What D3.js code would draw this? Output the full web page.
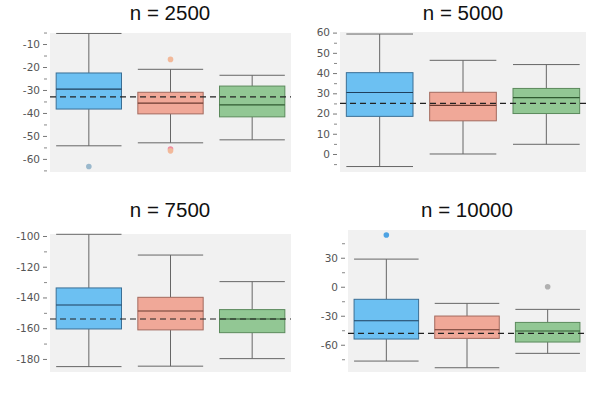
<!DOCTYPE html>
<html><head><meta charset="utf-8">
<script src="https://cdn.jsdelivr.net/npm/d3@7"></script>
<style>body{margin:0;background:#fff}svg{display:block}</style>
</head><body>
<svg id="c" width="600" height="400"></svg>
<script>
const titles = ["n = 2500", "n = 5000", "n = 7500", "n = 10000"];
const groups = ["A", "B", "C"];
// per panel, per group: [whiskerLow, q1, median, q3, whiskerHigh]
const stats2500  = [[-54.3, -38.3, -29.6, -22.6, -5.4], [-53, -40.4, -35.7, -31, -21], [-51.7, -41.7, -36.5, -28.3, -23.6]];
const stats5000  = [[-6.2, 18.6, 30.4, 40.2, 59.3], [0, 16.4, 24, 30.5, 46.3], [4.8, 20, 27.9, 32.4, 44.2]];
const stats7500  = [[-185, -160.5, -144.9, -133.8, -98.9], [-184.7, -161.1, -148.8, -139.9, -112.4], [-179.8, -162.9, -154, -147.9, -129.7]];
const stats10000 = [[-76.9, -54.1, -35.2, -13, 28.6], [-83.8, -53.4, -44.5, -30.3, -17.2], [-68.9, -57.2, -45.8, -36.9, -23.4]];
const outliers2500  = [[-63.3], [-16.7, -55.7, -56.5], []];
const outliers5000  = [[], [], []];
const outliers7500  = [[], [], []];
const outliers10000 = [[53.5], [], [0]];
const refLines = [-33, 25, -154, -48.3];
const majorTicks = [[-60, -50, -40, -30, -20, -10], [0, 10, 20, 30, 40, 50, 60], [-180, -160, -140, -120, -100], [-60, -30, 0, 30]];
const minorTicks = [[-65, -55, -45, -35, -25, -15, -5], [-5, 5, 15, 25, 35, 45, 55], [-190, -170, -150, -130, -110], [-75, -45, -15, 15, 45]];
const yDomains = [[-65.7, -5.2], [-8.9, 60.3], [-188.5, -98.7], [-88.2, 58.7]];

const allStats = [stats2500, stats5000, stats7500, stats10000];
const allOut = [outliers2500, outliers5000, outliers7500, outliers10000];

const fills = ["#6cc0f2", "#f0a898", "#92c794"];
const strokes = ["#3b6f95", "#a36a5e", "#5b8a5c"];
const medians = ["#1f3f5c", "#6a3a30", "#2f5a30"];
const outColors = [["#9ab8cc", "#4ea3e3"], ["#f2b99a", "#f08ca0"], ["#b0b0b0"]];

// layout per panel
const layout = [
  {x0: 48, x1: 293, y0: 33, y1: 172, tx: 170, ty: 20},
  {x0: 338, x1: 588, y0: 32, y1: 172, tx: 463, ty: 20},
  {x0: 48, x1: 293, y0: 234, y1: 372, tx: 170, ty: 217},
  {x0: 346, x1: 588, y0: 230, y1: 372, tx: 467, ty: 217}
];

const svg = d3.select("#c");

layout.forEach((L, p) => {
  const g = svg.append("g");
  const x = d3.scaleBand().domain(groups).range([L.x0, L.x1]).paddingInner(0).paddingOuter(0);
  const y = d3.scaleLinear().domain(yDomains[p]).range([L.y1, L.y0]);
  const bw = x.bandwidth() * 0.8;

  g.append("text").attr("x", L.tx).attr("y", L.ty).attr("text-anchor", "middle")
    .attr("font-family", "Liberation Sans, Arial, sans-serif").attr("font-size", 20.5).attr("fill", "#111")
    .text(titles[p]);

  g.append("rect").attr("x", L.x0 + 2).attr("y", L.y0).attr("width", L.x1 - L.x0 - 4).attr("height", L.y1 - L.y0)
    .attr("fill", "#f1f1f1");

  // axis
  const axG = g.append("g").attr("transform", `translate(${L.x0 - 1},0)`);
  axG.call(d3.axisLeft(y).tickValues(majorTicks[p]).tickSize(4).tickPadding(3).tickFormat(d => String(d)));
  axG.select(".domain").remove();
  axG.selectAll(".tick line").attr("stroke", "#777");
  axG.selectAll(".tick text").attr("font-family", "DejaVu Sans, sans-serif").attr("font-size", 10.5).attr("fill", "#555");
  const mG = g.append("g").attr("transform", `translate(${L.x0 - 1},0)`);
  mG.call(d3.axisLeft(y).tickValues(minorTicks[p].filter(v => v >= yDomains[p][0] - 0.5 && v <= yDomains[p][1] + 0.5)).tickSize(3).tickFormat(""));
  mG.select(".domain").remove();
  mG.selectAll(".tick line").attr("stroke", "#888");

  const st = allStats[p];
  groups.forEach((gr, i) => {
    const s = st[i];
    const cx = x(gr) + x.bandwidth() / 2;
    const bx = cx - bw / 2;
    // whiskers
    g.append("line").attr("x1", cx).attr("x2", cx).attr("y1", y(s[4])).attr("y2", y(s[3])).attr("stroke", "#666").attr("stroke-width", 1);
    g.append("line").attr("x1", cx).attr("x2", cx).attr("y1", y(s[1])).attr("y2", y(s[0])).attr("stroke", "#666").attr("stroke-width", 1);
    [s[0], s[4]].forEach(v => {
      g.append("line").attr("x1", bx).attr("x2", bx + bw).attr("y1", y(v)).attr("y2", y(v)).attr("stroke", "#666").attr("stroke-width", 1);
    });
    g.append("rect").attr("x", bx).attr("y", y(s[3])).attr("width", bw).attr("height", y(s[1]) - y(s[3]))
      .attr("fill", fills[i]).attr("stroke", strokes[i]).attr("stroke-width", 1);
    g.append("line").attr("x1", bx).attr("x2", bx + bw).attr("y1", y(s[2])).attr("y2", y(s[2])).attr("stroke", medians[i]).attr("stroke-width", 1.2);
    allOut[p][i].forEach((v, k) => {
      g.append("circle").attr("cx", cx).attr("cy", y(v)).attr("r", 2.8)
        .attr("fill", p === 3 && i === 0 ? "#4ea3e3" : (outColors[i][k] || outColors[i][0]));
    });
  });

  g.append("line").attr("x1", L.x0 + 2).attr("x2", L.x1 - 2).attr("y1", y(refLines[p])).attr("y2", y(refLines[p]))
    .attr("stroke", "#222").attr("stroke-width", 1.2).attr("stroke-dasharray", "6,4");
});
</script>
</body></html>
